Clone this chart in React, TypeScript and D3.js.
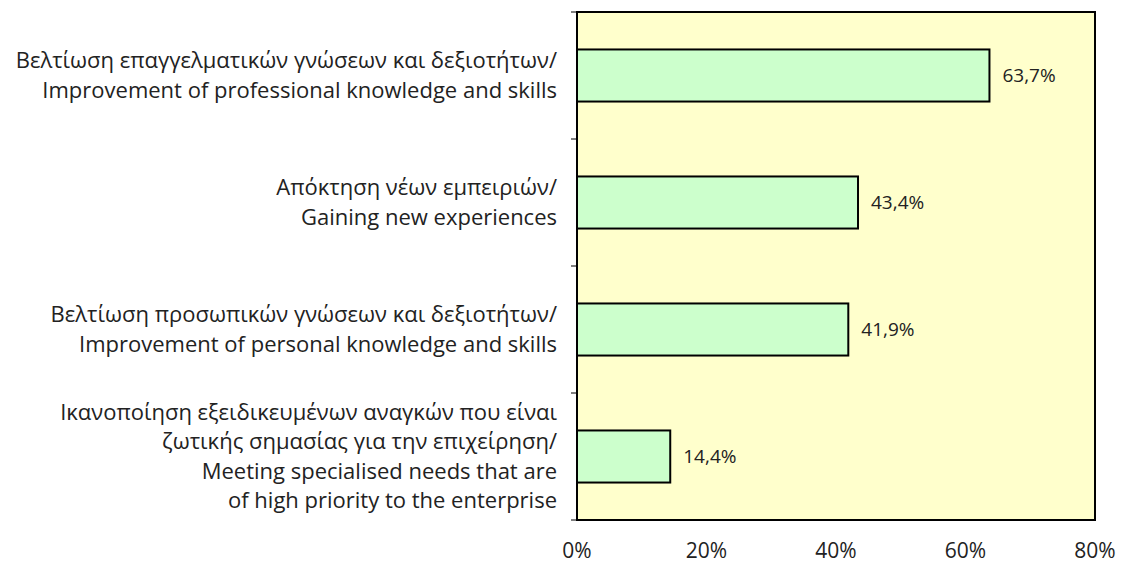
import React, { useEffect, useRef } from "react";
import * as d3 from "d3";

const categories: string[][] = [
  ["Βελτίωση επαγγελματικών γνώσεων και δεξιοτήτων/", "Improvement of professional knowledge and skills"],
  ["Απόκτηση νέων εμπειριών/", "Gaining new experiences"],
  ["Βελτίωση προσωπικών γνώσεων και δεξιοτήτων/", "Improvement of personal knowledge and skills"],
  [
    "Ικανοποίηση εξειδικευμένων αναγκών που είναι",
    "ζωτικής σημασίας για την επιχείρηση/",
    "Meeting specialised needs that are",
    "of high priority to the enterprise",
  ],
];
const values = [63.7, 43.4, 41.9, 14.4];
const ticks = [0, 20, 40, 60, 80];

const W = 1121;
const H = 563;

const App: React.FC = () => {
  const ref = useRef<SVGSVGElement | null>(null);

  useEffect(() => {
    if (!ref.current) return;
    const svg = d3.select(ref.current);
    svg.selectAll("*").remove();

    const left = 577;
    const right = 1095;
    const top = 12;
    const bottom = 520;
    const font = "'Open Sans', sans-serif";

    const x = d3.scaleLinear().domain([0, 80]).range([left, right]);
    const idx = categories.map((_, i) => String(i));
    const y = d3.scaleBand().domain(idx).range([top, bottom]).paddingInner(0.59).paddingOuter(0.295);
    const yb = d3.scaleBand().domain(idx).range([top, bottom]);

    svg.append("rect")
      .attr("x", left).attr("y", top)
      .attr("width", right - left).attr("height", bottom - top)
      .attr("fill", "#FFFFCC");

    // bars
    svg.selectAll(".bar")
      .data(values)
      .enter()
      .append("rect")
      .attr("x", left)
      .attr("y", (_, i) => y(String(i))!)
      .attr("width", d => x(d) - left)
      .attr("height", y.bandwidth())
      .attr("fill", "#CCFFCC")
      .attr("stroke", "#000")
      .attr("stroke-width", 2);

    // value labels
    svg.selectAll(".val")
      .data(values)
      .enter()
      .append("text")
      .attr("x", d => x(d) + 13)
      .attr("y", (_, i) => y(String(i))! + y.bandwidth() / 2)
      .attr("dy", "0.35em")
      .attr("font-family", font)
      .attr("font-size", 19)
      .attr("fill", "#222")
      .text(d => d.toFixed(1).replace(".", ",") + "%");

    // frame
    svg.append("rect")
      .attr("x", left).attr("y", top)
      .attr("width", right - left).attr("height", bottom - top)
      .attr("fill", "none")
      .attr("stroke", "#000")
      .attr("stroke-width", 2);

    // category boundary ticks
    const bounds = idx.map(k => yb(k)!).concat([bottom]);
    svg.selectAll(".tk")
      .data(bounds)
      .enter()
      .append("line")
      .attr("x1", left - 6).attr("x2", left)
      .attr("y1", d => d).attr("y2", d => d)
      .attr("stroke", "#000")
      .attr("stroke-width", 1);

    // category labels
    const lh = 29.5;
    categories.forEach((lines, i) => {
      const cy = yb(String(i))! + yb.bandwidth() / 2;
      const t = svg.append("text")
        .attr("text-anchor", "end")
        .attr("font-family", font)
        .attr("font-size", 22)
        .attr("fill", "#222");
      lines.forEach((ln, j) => {
        t.append("tspan")
          .attr("x", 557)
          .attr("y", cy + (j - (lines.length - 1) / 2) * lh)
          .attr("dy", "0.35em")
          .text(ln);
      });
    });

    // x axis labels
    svg.selectAll(".xl")
      .data(ticks)
      .enter()
      .append("text")
      .attr("x", d => x(d))
      .attr("y", 551)
      .attr("dy", "0.35em")
      .attr("text-anchor", "middle")
      .attr("font-family", font)
      .attr("font-size", 21)
      .attr("fill", "#222")
      .text(d => d + "%");
  }, []);

  return <svg ref={ref} width={W} height={H} style={{ position: "absolute", left: 0, top: 0 }} />;
};

export default App;
